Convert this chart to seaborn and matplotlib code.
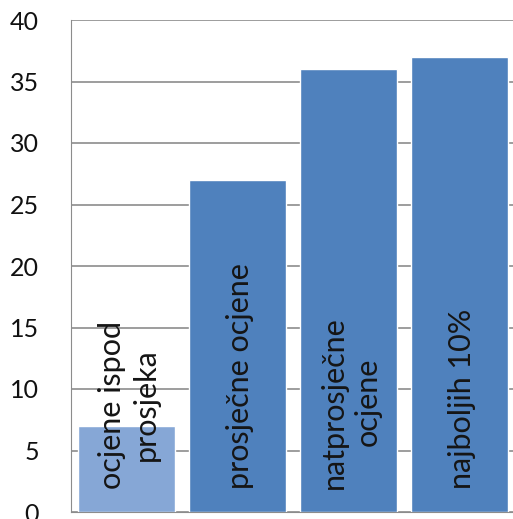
import numpy as np
import pandas as pd
import seaborn as sns
import matplotlib.pyplot as plt

# Data
# ==============================================================================
categories = ['ocjene ispod\nprosjeka', 'prosječne ocjene', 'natprosječne\nocjene', 'najboljih 10%']
values = [7, 27, 36, 37]
bar_colors = ['#86A7D6', '#4F81BD', '#4F81BD', '#4F81BD']
y_ticks = [0, 5, 10, 15, 20, 25, 30, 35, 40]

df = pd.DataFrame({'cat': categories, 'value': values})

# Graph
# ==============================================================================
sns.set_style('white')
plt.rcParams['font.family'] = ['Lato', 'DejaVu Sans']

fig = plt.figure(figsize=(5.13, 5.19), dpi=100)
ax = fig.add_axes([71 / 513, 1 - 512 / 519, 444 / 513, 492 / 519])

sns.barplot(data=df, x='cat', y='value', hue='cat', palette=bar_colors,
            width=0.87, legend=False, ax=ax, zorder=2, saturation=1)

ax.set_ylim(0, 40)
ax.set_yticks(y_ticks)
ax.yaxis.grid(True, color='#8C8C8C', linewidth=1.2, zorder=0)
ax.set_axisbelow(True)
ax.tick_params(axis='y', length=0, pad=23, labelsize=18, labelcolor='#111111')
ax.tick_params(axis='x', length=0, labelbottom=False)
ax.set_xlabel('')
ax.set_ylabel('')

for side in ['top', 'right']:
    ax.spines[side].set_visible(False)
ax.spines['left'].set_color('#8C8C8C')
ax.spines['bottom'].set_color('#8C8C8C')

# Labels inside bars
for i, label in enumerate(categories):
    ax.text(i + 0.02, 1.9, label, rotation=90, ha='center', va='bottom',
            multialignment='center', linespacing=1.25,
            fontsize=22, color='#151515', zorder=3)

fig.savefig('out.png', dpi=100)
